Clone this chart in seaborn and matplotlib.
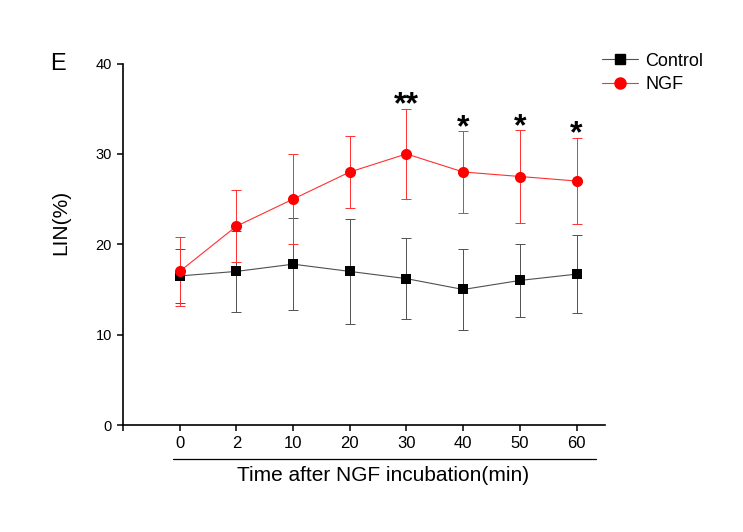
import numpy as np
import pandas as pd
import seaborn as sns
import matplotlib
matplotlib.use("Agg")
import matplotlib.pyplot as plt
from matplotlib.lines import Line2D

# -------------------------------
# Data
# -------------------------------
times = ["0", "2", "10", "20", "30", "40", "50", "60"]
control_mean = [16.5, 17.0, 17.8, 17.0, 16.2, 15.0, 16.0, 16.7]
control_err = [3.0, 4.5, 5.1, 5.8, 4.5, 4.5, 4.0, 4.3]
ngf_mean = [17.0, 22.0, 25.0, 28.0, 30.0, 28.0, 27.5, 27.0]
ngf_err = [3.8, 4.0, 5.0, 4.0, 5.0, 4.5, 5.1, 4.8]
stars = ["", "", "", "", "**", "*", "*", "*"]

pos = np.arange(len(times))
df = pd.DataFrame({
    "pos": np.concatenate([pos, pos]),
    "LIN": control_mean + ngf_mean,
    "err": control_err + ngf_err,
    "group": ["Control"] * len(times) + ["NGF"] * len(times),
})

# -------------------------------
# Style
# -------------------------------
sns.set_style("ticks")
plt.rcParams["font.family"] = ["Liberation Sans", "DejaVu Sans"]
plt.rcParams["text.color"] = "black"
plt.rcParams["axes.labelcolor"] = "black"
plt.rcParams["xtick.color"] = "black"
plt.rcParams["ytick.color"] = "black"

fig = plt.figure(figsize=(7.43, 5.32), dpi=100)
ax = fig.add_axes([0.1655, 0.201, 0.6487, 0.6796])

colors = {"Control": "#505050", "NGF": "#ff3030"}
mcolors = {"Control": "black", "NGF": "red"}

# error bars first so markers sit on top
for g, sub in df.groupby("group"):
    ax.errorbar(sub["pos"], sub["LIN"], yerr=sub["err"], fmt="none",
                ecolor=colors[g], elinewidth=0.7, capsize=3.5, capthick=0.7,
                zorder=2)

sns.lineplot(data=df, x="pos", y="LIN", hue="group", style="group",
             palette=colors, markers={"Control": "s", "NGF": "o"},
             dashes=False, linewidth=0.8, markersize=7,
             markeredgewidth=0, ax=ax, legend=False, zorder=3)

# recolour markers to pure black / red
for line, g in zip(ax.lines[-2:], ["Control", "NGF"]):
    line.set_markerfacecolor(mcolors[g])
    line.set_markeredgecolor(mcolors[g])
ax.lines[-1].set_markersize(8)

# significance stars
for i, s in enumerate(stars):
    if s:
        ax.text(pos[i], ngf_mean[i] + ngf_err[i] - 0.5, s, ha="center",
                va="baseline", fontsize=23, fontweight="bold")

# -------------------------------
# Axes
# -------------------------------
ax.set_xlim(-1, 7.5)
ax.set_ylim(0, 40)
ax.set_xticks(np.concatenate([[-1], pos]))
ax.set_xticklabels([""] + times, fontsize=12)
ax.set_yticks([0, 10, 20, 30, 40])
ax.set_yticklabels(["0", "10", "20", "30", "40"], fontsize=10.5)
ax.tick_params(direction="out", length=4, width=1.1, color="black", pad=4)
for side in ["left", "bottom"]:
    ax.spines[side].set_linewidth(1.2)
    ax.spines[side].set_color("black")
sns.despine(ax=ax)

ax.set_xlabel("Time after NGF incubation(min)", fontsize=15)
ax.set_ylabel("LIN(%)", fontsize=15)
ax.xaxis.set_label_coords(0.539, -0.113)
ax.yaxis.set_label_coords(-0.11, 0.56)

# line under the tick labels
ax.plot([-0.12, 7.34], [-3.7, -3.7], color="black", lw=0.9,
        clip_on=False, transform=ax.transData)

# legend
handles = [
    Line2D([], [], color=colors["Control"], lw=0.8, marker="s",
           markersize=7, markerfacecolor="black", markeredgecolor="black"),
    Line2D([], [], color=colors["NGF"], lw=0.8, marker="o",
           markersize=8, markerfacecolor="red", markeredgecolor="red"),
]
fig.legend(handles, ["Control", "NGF"], loc="upper left",
           bbox_to_anchor=(0.798, 0.918), frameon=False, fontsize=13,
           borderpad=0, handlelength=2.0, handletextpad=0.4,
           labelspacing=0.35)

fig.text(0.078, 0.88, "E", fontsize=17, ha="center", va="center")

plt.savefig("out.png", dpi=100)
plt.close()
